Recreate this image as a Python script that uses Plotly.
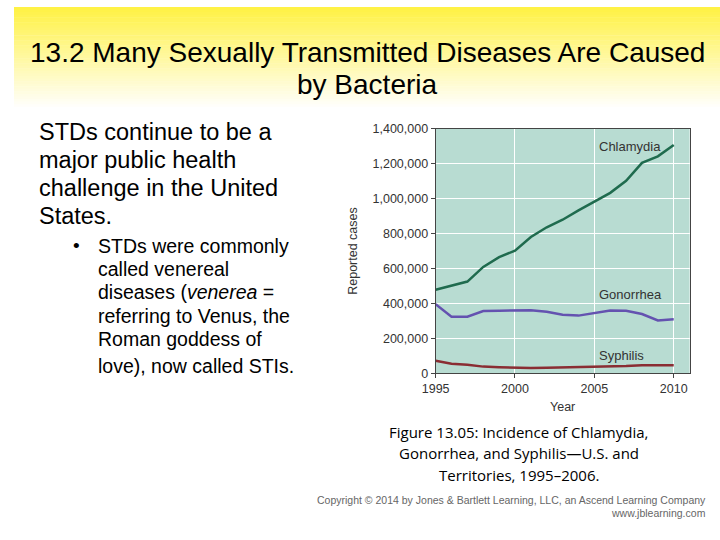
import plotly.graph_objects as go

# data
years = list(range(1995, 2011))
chlamydia = [478000, 503000, 525000, 609000, 665000, 702000, 780000, 836000,
             879000, 933000, 981000, 1033000, 1102000, 1205000, 1242000, 1307000]
gonorrhea = [395000, 324000, 324000, 356000, 358000, 358000, 361000, 352000,
             335000, 330000, 343000, 359000, 358000, 339000, 302000, 309000]
syphilis = [71000, 54000, 48000, 38000, 34000, 30000, 30000, 32000,
            34000, 34000, 34000, 37000, 41000, 46000, 46000, 46000]
y_ticks = [0, 200000, 400000, 600000, 800000, 1000000, 1200000, 1400000]
x_ticks = [1995, 2000, 2005, 2010]

W, H = 720, 540
SANS = "Arial, Liberation Sans, sans-serif"


def px(x):
    return x / W


def py(y):
    return 1 - y / H


fig = go.Figure()

series = [
    ("Chlamydia", chlamydia, "#1f6b4e"),
    ("Gonorrhea", gonorrhea, "#6452b0"),
    ("Syphilis", syphilis, "#8a2d33"),
]
for name, vals, color in series:
    fig.add_trace(go.Scatter(
        x=years, y=vals, mode="lines", name=name,
        line=dict(color=color, width=2.5),
        hoverinfo="x+y+name",
    ))

# series labels inside the plot
for name, xv, yv in [("Chlamydia", 2005.15, 1300000),
                     ("Gonorrhea", 2005.15, 450000),
                     ("Syphilis", 2005.15, 104000)]:
    fig.add_annotation(x=xv, y=yv, text=name, showarrow=False,
                       xanchor="left", yanchor="middle",
                       font=dict(family=SANS, size=13, color="#333"))

# yellow gradient header
n = 40
for i in range(n):
    t = i / (n - 1)
    r, g, b = 255, int(242 + (255 - 242) * t), int(69 + (255 - 69) * t)
    fig.add_shape(type="rect", xref="paper", yref="paper", layer="below",
                  x0=0, x1=1, y0=py(i * 105 / n), y1=py((i + 1) * 105 / n + 0.5),
                  line=dict(width=0), fillcolor=f"rgb({r},{g},{b})")

title_font = dict(family=SANS, size=28, color="#000")
fig.add_annotation(xref="paper", yref="paper", x=0.5, y=py(47),
                   text="13.2 Many Sexually Transmitted Diseases Are Caused",
                   showarrow=False, xanchor="center", yanchor="middle", font=title_font)
fig.add_annotation(xref="paper", yref="paper", x=0.5, y=py(80),
                   text="by Bacteria", showarrow=False,
                   xanchor="center", yanchor="middle", font=title_font)

para = ["STDs continue to be a", "major public health",
        "challenge in the United", "States."]
for i, line in enumerate(para):
    fig.add_annotation(xref="paper", yref="paper", x=px(23), y=py(128 + i * 29),
                       text=line, showarrow=False, xanchor="left", yanchor="middle",
                       font=dict(family=SANS, size=23.5, color="#000"))

fig.add_annotation(xref="paper", yref="paper", x=px(58), y=py(245), text="•",
                   showarrow=False, xanchor="left", yanchor="middle",
                   font=dict(family=SANS, size=19, color="#000"))
bullet = ["STDs were commonly", "called venereal",
          "diseases (<i>venerea</i> =", "referring to Venus, the",
          "Roman goddess of", "love), now called STIs."]
bullet_y = [245, 269, 293, 317, 341, 369]
for line, yy in zip(bullet, bullet_y):
    fig.add_annotation(xref="paper", yref="paper", x=px(84), y=py(yy),
                       text=line, showarrow=False, xanchor="left", yanchor="middle",
                       font=dict(family=SANS, size=19.5, color="#000"))

caption = ["Figure 13.05: Incidence of Chlamydia,",
           "Gonorrhea, and Syphilis\u2014U.S. and",
           "Territories, 1995\u20132006."]
for i, line in enumerate(caption):
    fig.add_annotation(xref="paper", yref="paper", x=px(515), y=py(436 + i * 22),
                       text=line, showarrow=False, xanchor="center", yanchor="middle",
                       font=dict(family="Open Sans", size=15, color="#000"))

copy_font = dict(family=SANS, size=10.5, color="#666")
fig.add_annotation(xref="paper", yref="paper", x=px(708), y=py(506),
                   text="Copyright \u00a9 2014 by Jones & Bartlett Learning, LLC, an Ascend Learning Company",
                   showarrow=False, xanchor="right", yanchor="middle", font=copy_font)
fig.add_annotation(xref="paper", yref="paper", x=px(708), y=py(519),
                   text="www.jblearning.com", showarrow=False,
                   xanchor="right", yanchor="middle", font=copy_font)

axis_font = dict(family=SANS, size=12.5, color="#333")
fig.update_layout(
    width=W, height=H,
    margin=dict(l=0, r=0, t=0, b=0),
    paper_bgcolor="white",
    plot_bgcolor="#b8dcd2",
    showlegend=False,
    xaxis=dict(
        domain=[px(430), px(689)], range=[1995, 2011],
        tickvals=x_ticks, ticks="outside", ticklen=4, tickcolor="#444",
        showgrid=True, gridcolor="white", gridwidth=1.2, zeroline=False,
        showline=True, linecolor="#444", linewidth=1, mirror=True,
        tickfont=axis_font,
        title=dict(text="Year", font=axis_font, standoff=6),
    ),
    yaxis=dict(
        domain=[py(376), py(125)], range=[0, 1400000],
        tickvals=y_ticks, tickformat=",d", ticks="outside", ticklen=4,
        tickcolor="#444",
        showgrid=True, gridcolor="white", gridwidth=1.2, zeroline=False,
        showline=True, linecolor="#444", linewidth=1, mirror=True,
        tickfont=axis_font,
        title=dict(text="Reported cases", font=axis_font, standoff=12),
    ),
)

fig.write_html(
    "out.html",
    config={"displayModeBar": False},
    post_script="document.body.style.margin='0';"
                "document.documentElement.style.overflow='hidden';",
)
